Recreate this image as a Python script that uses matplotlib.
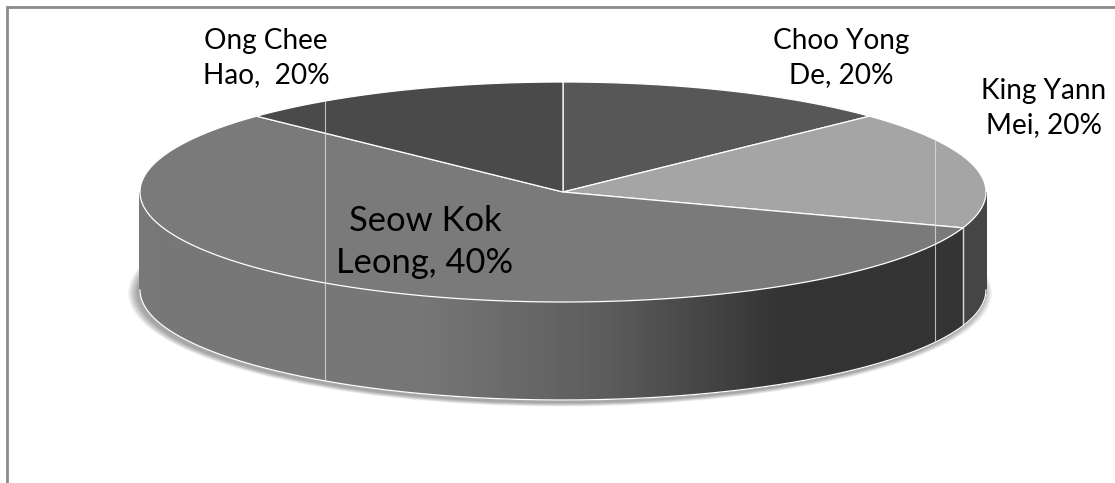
import numpy as np
import matplotlib
matplotlib.use("Agg")
import matplotlib.pyplot as plt
from matplotlib.patches import Polygon, Ellipse
from matplotlib.collections import PolyCollection

# ---- data -------------------------------------------------------------
names = ["Choo Yong\nDe", "King Yann\nMei", "Seow Kok\nLeong", "Ong Chee\nHao"]
values = [20, 20, 40, 20]
label_sep = [", ", ", ", ", ", ",  "]
top_colors = ["#575757", "#a5a5a5", "#7a7a7a", "#4a4a4a"]

# label anchors (pixel space) and sizes
label_pos = [(841, 58), (1044, 108), (425, 242), (266, 58)]
label_size = [20.2, 20.2, 24.8, 20.2]

# ---- figure -----------------------------------------------------------
W, H = 1115, 483
fig = plt.figure(figsize=(W / 100, H / 100), dpi=100)
ax = fig.add_axes([0, 0, 1, 1])
ax.set_xlim(0, W)
ax.set_ylim(H, 0)
ax.axis("off")

# pie geometry in pixel space
cx, cy = 563, 192
rx, ry = 423, 110
depth = 98


def view_angle(theta):
    """Perspective foreshortening: true angle (deg) -> on-screen angle (deg)."""
    psi = np.radians(np.asarray(theta) + 90.0)
    psi_d = psi + np.radians(35.9) * np.sin(psi) + np.radians(14.6) * np.sin(2 * psi)
    return np.degrees(psi_d) - 90.0


def top_pt(t):
    t = np.radians(t)
    return cx + rx * np.cos(t), cy - ry * np.sin(t)


def wall_light(u):
    """Lighting factor for the side wall, u = cos(angle) in [-1, 1]."""
    return np.interp(u, [-1.0, -0.34, 0.09, 0.51, 1.0], [0.98, 0.97, 0.76, 0.42, 0.42])


def shade(hexcol, f):
    rgb = np.array(matplotlib.colors.to_rgb(hexcol))
    return tuple(np.clip(rgb * f, 0, 1))


# ---- soft drop shadow under the base ---------------------------------
for s in np.linspace(9, 0, 10):
    ax.add_patch(Ellipse((cx - 3, cy + depth + 3), 2 * rx + 2 * s, 2 * ry + 0.8 * s,
                         facecolor="black", edgecolor="none", alpha=0.04, zorder=1))

total = float(sum(values))
start = 90.0
bounds = []
acc = 0.0
for v in values:
    t1 = start - acc / total * 360.0
    t2 = start - (acc + v) / total * 360.0
    bounds.append((t1, t2))
    acc += v

# ---- side walls -------------------------------------------------------
for (t1, t2), col in zip(bounds, top_colors):
    tt = view_angle(np.linspace(t1, t2, 600))
    st = np.sin(np.radians(tt))
    vis = st <= 1e-9
    polys, cols = [], []
    for i in range(len(tt) - 1):
        if vis[i] and vis[i + 1]:
            x0, y0 = top_pt(tt[i])
            x1, y1 = top_pt(tt[i + 1])
            polys.append([(x0, y0), (x1, y1), (x1, y1 + depth), (x0, y0 + depth)])
            u = np.cos(np.radians(0.5 * (tt[i] + tt[i + 1])))
            cols.append(shade(col, wall_light(u)))
    if polys:
        ax.add_collection(PolyCollection(polys, facecolors=cols, edgecolors=cols,
                                         linewidths=0.6, zorder=2))

# rim line of the base
tb = np.linspace(180, 360, 400)
xb, yb = top_pt(tb)
ax.plot(xb, yb + depth, color="white", lw=0.9, zorder=3)

# vertical slice edge on the wall where visible
for (t1, t2) in bounds:
    for t in (t1, t2):
        td = view_angle(t)
        if np.sin(np.radians(td)) < 0:
            x0, y0 = top_pt(td)
            ax.plot([x0, x0], [y0, y0 + depth], color="#d8d8d8", lw=0.9, zorder=3)

# ---- top faces --------------------------------------------------------
for (t1, t2), col in zip(bounds, top_colors):
    tt = view_angle(np.linspace(t1, t2, 300))
    xs, ys = top_pt(tt)
    pts = [(cx, cy)] + list(zip(xs, ys))
    ax.add_patch(Polygon(pts, closed=True, facecolor=col, edgecolor="white",
                         lw=0.9, joinstyle="round", zorder=4))

# faint vertical seams across the body
for u in (-0.563, 0.879):
    h = ry * np.sqrt(1 - u * u)
    ax.plot([cx + u * rx] * 2, [cy - h, cy + depth + h], color="#dedede",
            lw=0.8, alpha=0.8, zorder=5)

# ---- labels -----------------------------------------------------------
for name, v, sep, (lx, ly), fs in zip(names, values, label_sep, label_pos, label_size):
    txt = f"{name}{sep}{v / total * 100:.0f}%"
    ax.text(lx, ly, txt, ha="center", va="center", fontsize=fs, family="Lato",
            color="black", linespacing=1.42, zorder=6)

# ---- chart-area border (top and left edges) ----------------------------
ax.plot([7, 7, W + 5], [H + 5, 7, 7], color="#8c8c8c", lw=2.0, zorder=7,
        solid_joinstyle="miter", clip_on=False)

fig.savefig("out.png", dpi=100)
